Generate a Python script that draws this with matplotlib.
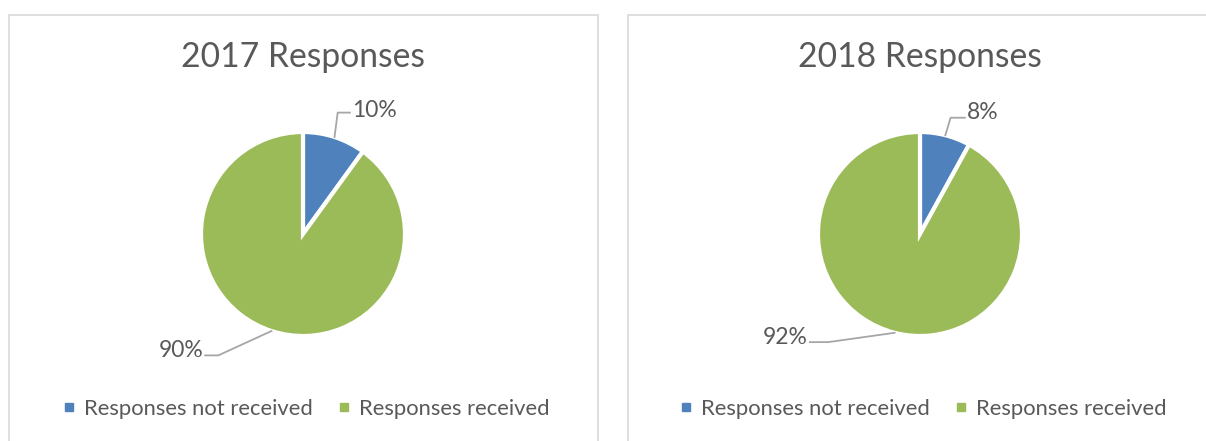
import numpy as np
import matplotlib
matplotlib.use("Agg")
import matplotlib.pyplot as plt
from matplotlib.patches import Rectangle
from matplotlib.lines import Line2D

# ---- data ----
categories = ["Responses not received", "Responses received"]
titles = ["2017 Responses", "2018 Responses"]
values_2017 = [10, 90]
values_2018 = [8, 92]
series = [values_2017, values_2018]

colors = ["#4F81BD", "#9BBB59"]
text_color = "#595959"
font = "Lato"

W, H = 1206, 441
fig = plt.figure(figsize=(W / 100, H / 100), dpi=100)
fig.patch.set_facecolor("white")

def fx(px):
    return px / W

def fy(py):
    return 1 - py / H

# panel frames
for (x0, x1) in [(9, 598), (628, 1215)]:
    fig.patches.append(Rectangle((fx(x0), fy(445)), fx(x1 - x0), (445 - 15) / H,
                                 transform=fig.transFigure, fill=False,
                                 edgecolor="#D9D9D9", linewidth=1.2))

centers = [303, 920]
cy = 234
R = 102
# label layout (data units of the pie: radius = 1)
label_layout = [
    # (elbow, end of leader, text pos, ha)
    [((0.34, 1.19), (0.46, 1.19), (0.48, 1.21), "left"),
     ((-0.83, -1.19), (-0.96, -1.19), (-0.98, -1.14), "right")],
    [((0.30, 1.14), (0.44, 1.14), (0.46, 1.19), "left"),
     ((-0.90, -1.06), (-1.08, -1.06), (-1.10, -1.01), "right")],
]

for i, (vals, title) in enumerate(zip(series, titles)):
    cx = centers[i]
    ax = fig.add_axes([fx(cx - R), fy(cy + R), 2 * R / W, 2 * R / H])
    wedges, _ = ax.pie(vals, colors=colors, startangle=90, counterclock=False,
                       radius=1.0,
                       wedgeprops=dict(edgecolor="white", linewidth=3))
    ax.set_xlim(-1, 1)
    ax.set_ylim(-1, 1)
    ax.set_aspect("auto")
    ax.axis("off")
    total = sum(vals)
    for j, w in enumerate(wedges):
        mid = np.deg2rad((w.theta1 + w.theta2) / 2)
        ax_pt = (np.cos(mid) * 1.0, np.sin(mid) * 1.0)
        elbow, end, tpos, ha = label_layout[i][j]
        ax.plot([ax_pt[0], elbow[0], end[0]], [ax_pt[1], elbow[1], end[1]],
                color="#A6A6A6", linewidth=1.3, clip_on=False)
        ax.text(tpos[0], tpos[1], f"{round(100 * vals[j] / total)}%",
                ha=ha, va="center", fontsize=16.5, color=text_color,
                family=font, clip_on=False)
    fig.text(fx(cx), fy(57), title, ha="center", va="center", fontsize=24.2,
             color=text_color, family=font)
    handles = [Line2D([], [], linestyle="none", marker="s", markersize=6.2,
                      markerfacecolor=c, markeredgecolor=c) for c in colors]
    fig.legend(handles, categories, loc="center", bbox_to_anchor=(fx(cx + 3), fy(409)),
               ncol=2, frameon=False, handlelength=0.55,
               handletextpad=0.4, columnspacing=1.15,
               labelcolor=text_color, prop=dict(family=font, size=15.8))

fig.savefig("out.png", dpi=100, facecolor="white")
